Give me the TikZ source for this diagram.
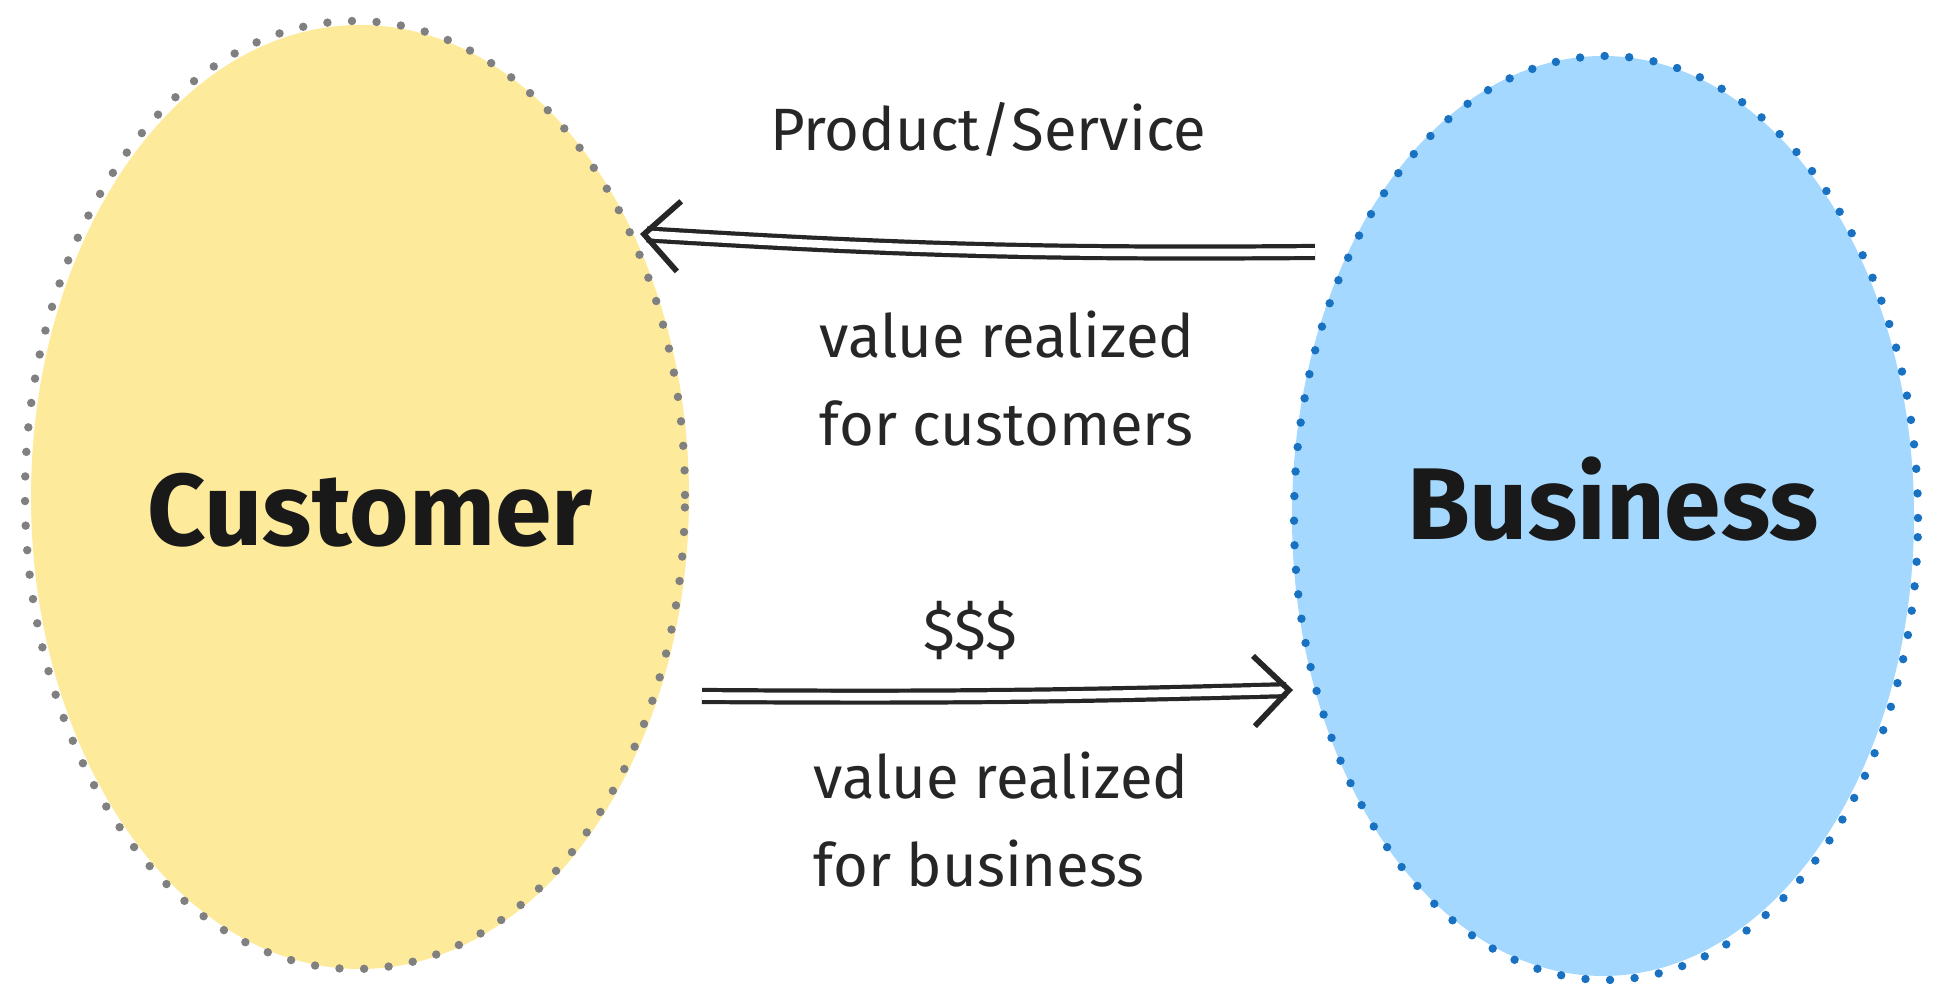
\documentclass[tikz,border=0pt]{standalone}
\usepackage{fontspec}
\setmainfont{Fira Sans}
\usetikzlibrary{arrows.meta}
\definecolor{custfill}{HTML}{FDEA9B}
\definecolor{busfill}{HTML}{A5D8FF}
\definecolor{busline}{HTML}{1971C2}
\tikzset{
  flow/.style={draw=black!85,line width=1.2pt,double distance=2.2pt,-{Straight Barb[length=10pt,width=20pt,line width=1.6pt]}},
  rim/.style={line width=2.4pt,line cap=round,dash pattern=on 0pt off 7pt},
  note/.style={font=\fontsize{17}{25}\selectfont,text=black!85,align=left},
  big/.style={font=\fontsize{29}{36}\selectfont\bfseries,text=black!90}
}
\begin{document}
\begin{tikzpicture}
  \useasboundingbox (0,0) rectangle (19.39,10.03);
  % Ovals
  \fill[custfill] (3.60,5.06) ellipse [x radius=3.29,y radius=4.72];
  \draw[gray,rim] (3.55,5.08) ellipse [x radius=3.30,y radius=4.74];
  \fill[busfill] (16.03,4.87) ellipse [x radius=3.11,y radius=4.60];
  \draw[busline,rim] (16.06,4.85) ellipse [x radius=3.12,y radius=4.62];
  \node[big] (cust) at (3.70,4.93) {Customer};
  \node[big] (bus) at (16.13,5.04) {Business};
  % Flows
  \coordinate (pstart) at (13.15,7.51);
  \coordinate (pend) at (6.40,7.69);
  \coordinate (mstart) at (7.02,3.07);
  \coordinate (mend) at (12.93,3.13);
  \draw[flow] (pstart) to[bend left=2] (pend);
  \draw[flow] (mstart) to[bend right=1] (mend);
  % Labels
  \node[note] (prod) at (9.88,8.73) {Product/Service};
  \node[note] (valc) at (10.07,6.24) {value realized\\for customers};
  \node[note] (cash) at (9.70,3.72) {\$\$\$};
  \node[note] (valb) at (10.01,1.83) {value realized\\for business};
\end{tikzpicture}
\end{document}
